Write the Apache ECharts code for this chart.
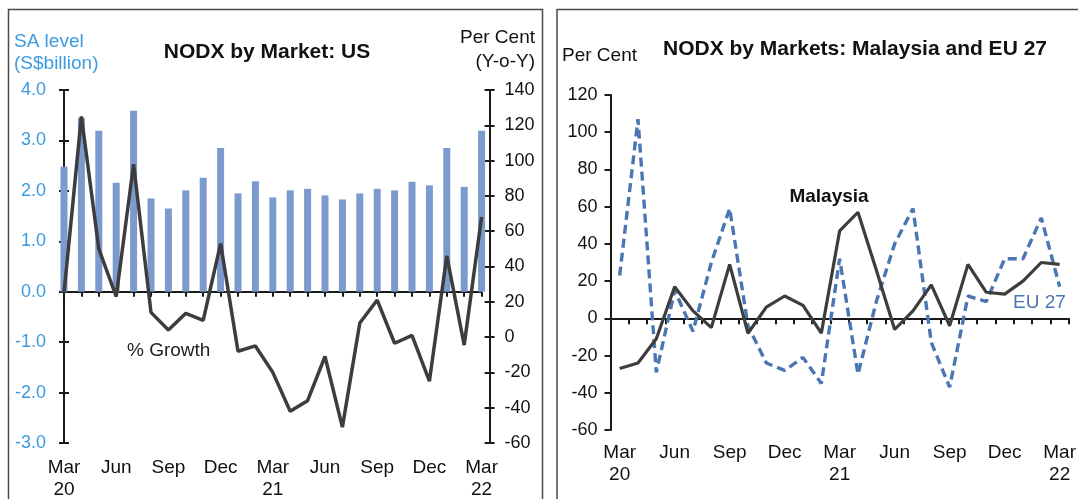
<!DOCTYPE html>
<html>
<head>
<meta charset="utf-8">
<script src="https://cdn.jsdelivr.net/npm/echarts@6/dist/echarts.min.js"></script>
<style>
html,body{margin:0;padding:0;background:#fff;}
#c{width:1078px;height:499px;}
</style>
</head>
<body>
<div id="c"></div>
<script>
// ---- data ----
var categories = ['Mar 20','Apr 20','May 20','Jun 20','Jul 20','Aug 20','Sep 20','Oct 20','Nov 20','Dec 20',
  'Jan 21','Feb 21','Mar 21','Apr 21','May 21','Jun 21','Jul 21','Aug 21','Sep 21','Oct 21','Nov 21','Dec 21',
  'Jan 22','Feb 22','Mar 22'];
var usLevel = [2.48, 3.45, 3.19, 2.16, 3.59, 1.85, 1.65, 2.01, 2.26, 2.85, 1.95, 2.19, 1.87,
  2.01, 2.04, 1.91, 1.83, 1.95, 2.04, 2.01, 2.18, 2.11, 2.85, 2.08, 3.19];
var usGrowth = [25, 125, 50, 23, 98, 14, 4, 13.5, 9.5, 53, -8, -5, -20,
  -42, -36, -11, -51, 8, 21, -3.5, 1, -25, 46, -4.5, 68];
var malaysia = [-27, -24, -11, 17, 4, -5, 29, -8, 6, 12, 7, -8, 47,
  57, 26, -6, 4, 18, -4, 29, 14, 13, 20, 30, 29];
var eu27 = [23, 107, -29, 15, -7, 30, 59, -4, -24, -28, -21, -35, 32,
  -30, 9, 40, 59, -13, -37, 12, 9, 32, 32, 54, 17];
var leftTicks = {min: -3, max: 4, interval: 1};
var rightTicks = {min: -60, max: 140, interval: 20};
var panel2Ticks = {min: -60, max: 120, interval: 20};

// ---- styles ----
var FONT = '"Liberation Sans", Arial, sans-serif';
var AX = '#1a1a1a';
var BLUE_TXT = '#3c9be0';
var BAR = '#7b9bcf';
var LINE = '#3d3d3d';
var EU = '#4a76b3';

function monthFmt(v) {
  var p = v.split(' ');
  return p[0] === 'Mar' ? p[0] + '\n' + p[1] : p[0];
}

var chart = echarts.init(document.getElementById('c'), null, {renderer: 'canvas'});

var g0 = {left: 64, top: 90, width: 417.6, height: 353};
var g1 = {left: 610.5, top: 95, width: 458.3, height: 335};

var option = {
  animation: false,
  textStyle: {fontFamily: FONT},
  grid: [
    {left: g0.left, top: g0.top, width: g0.width, height: g0.height, outerBoundsMode: 'none', containLabel: false},
    {left: g1.left, top: g1.top, width: g1.width, height: g1.height, outerBoundsMode: 'none', containLabel: false}
  ],
  xAxis: [
    {gridIndex: 0, type: 'category', data: categories, boundaryGap: false,
      axisLine: {show: true, onZero: true, onZeroAxisIndex: 0, lineStyle: {color: AX, width: 2}},
      axisTick: {show: true, interval: 0, length: 5, lineStyle: {color: AX, width: 2}},
      axisLabel: {show: false}, splitLine: {show: false}},
    {gridIndex: 0, type: 'category', data: categories, boundaryGap: false,
      axisLine: {show: false, onZero: true, onZeroAxisIndex: 0},
      axisTick: {show: true, inside: true, interval: 0, length: 5, lineStyle: {color: AX, width: 2}},
      axisLabel: {show: false}, splitLine: {show: false}},
    {gridIndex: 0, type: 'category', data: categories, boundaryGap: false, position: 'bottom',
      axisLine: {show: false, onZero: false}, axisTick: {show: false},
      axisLabel: {show: true, interval: 2, formatter: monthFmt, color: '#111', fontSize: 19,
        lineHeight: 22, margin: 14, fontFamily: FONT}},
    {gridIndex: 1, type: 'category', data: categories, boundaryGap: true,
      axisLine: {show: true, onZero: true, lineStyle: {color: AX, width: 2}},
      axisTick: {show: true, interval: 0, length: 6, lineStyle: {color: AX, width: 2}},
      axisLabel: {show: false}, splitLine: {show: false}},
    {gridIndex: 1, type: 'category', data: categories, boundaryGap: true, position: 'bottom',
      axisLine: {show: false, onZero: false}, axisTick: {show: false},
      axisLabel: {show: true, interval: 2, formatter: monthFmt, color: '#111', fontSize: 19,
        lineHeight: 22, margin: 12, fontFamily: FONT}}
  ],
  yAxis: [
    {gridIndex: 0, type: 'value', position: 'left', min: leftTicks.min, max: leftTicks.max, interval: leftTicks.interval,
      axisLine: {show: true, lineStyle: {color: AX, width: 2}},
      axisTick: {show: true, length: 5, lineStyle: {color: AX, width: 2}},
      axisLabel: {color: BLUE_TXT, fontSize: 18, margin: 18, fontFamily: FONT, formatter: function (v) { return v.toFixed(1); }},
      splitLine: {show: false}},
    {gridIndex: 0, type: 'value', position: 'right', offset: 8, min: rightTicks.min, max: rightTicks.max, interval: rightTicks.interval,
      axisLine: {show: true, lineStyle: {color: AX, width: 2}},
      axisTick: {show: true, length: 5, lineStyle: {color: AX, width: 2}},
      axisLabel: {color: '#111', fontSize: 18, margin: 15, fontFamily: FONT},
      splitLine: {show: false}},
    {gridIndex: 0, type: 'value', position: 'left', min: leftTicks.min, max: leftTicks.max, interval: leftTicks.interval,
      axisLine: {show: false}, axisTick: {show: true, inside: true, length: 5, lineStyle: {color: AX, width: 2}},
      axisLabel: {show: false}, splitLine: {show: false}},
    {gridIndex: 0, type: 'value', position: 'right', offset: 8, min: rightTicks.min, max: rightTicks.max, interval: rightTicks.interval,
      axisLine: {show: false}, axisTick: {show: true, inside: true, length: 5, lineStyle: {color: AX, width: 2}},
      axisLabel: {show: false}, splitLine: {show: false}},
    {gridIndex: 1, type: 'value', position: 'left', min: panel2Ticks.min, max: panel2Ticks.max, interval: panel2Ticks.interval,
      axisLine: {show: true, lineStyle: {color: AX, width: 2}},
      axisTick: {show: true, length: 6, lineStyle: {color: AX, width: 2}},
      axisLabel: {color: '#111', fontSize: 18, margin: 13, fontFamily: FONT},
      splitLine: {show: false}}
  ],
  series: [
    {type: 'bar', xAxisIndex: 0, yAxisIndex: 0, data: usLevel, barWidth: 7,
      itemStyle: {color: BAR}, z: 1},
    {type: 'line', xAxisIndex: 0, yAxisIndex: 1, data: usGrowth, symbol: 'none',
      lineStyle: {color: LINE, width: 3.5}, z: 5},
    {type: 'line', xAxisIndex: 3, yAxisIndex: 4, data: eu27, symbol: 'none',
      lineStyle: {color: EU, width: 3.4, type: [9, 5]}, z: 3},
    {type: 'line', xAxisIndex: 3, yAxisIndex: 4, data: malaysia, symbol: 'none',
      lineStyle: {color: LINE, width: 3.2}, z: 4}
  ],
  graphic: [
    {type: 'rect', shape: {x: 8.5, y: 9.5, width: 534, height: 600}, style: {fill: 'none', stroke: '#4a4a4a', lineWidth: 1.5}, silent: true},
    {type: 'rect', shape: {x: 557, y: 9.5, width: 540, height: 600}, style: {fill: 'none', stroke: '#4a4a4a', lineWidth: 1.5}, silent: true},
    {type: 'text', left: 14, top: 32, style: {text: 'SA level', font: '19px ' + FONT, fill: BLUE_TXT}},
    {type: 'text', left: 14, top: 54, style: {text: '(S$billion)', font: '19px ' + FONT, fill: BLUE_TXT}},
    {type: 'text', style: {x: 267, y: 52, text: 'NODX by Market: US', font: 'bold 21px ' + FONT, fill: '#111', align: 'center', verticalAlign: 'middle'}},
    {type: 'text', style: {x: 535, y: 38, text: 'Per Cent', font: '19px ' + FONT, fill: '#111', align: 'right', verticalAlign: 'middle'}},
    {type: 'text', style: {x: 535, y: 62, text: '(Y-o-Y)', font: '19px ' + FONT, fill: '#111', align: 'right', verticalAlign: 'middle'}},
    {type: 'text', style: {x: 127, y: 351, text: '% Growth', font: '19px ' + FONT, fill: '#222', align: 'left', verticalAlign: 'middle'}},
    {type: 'text', style: {x: 562, y: 56, text: 'Per Cent', font: '19px ' + FONT, fill: '#111', align: 'left', verticalAlign: 'middle'}},
    {type: 'text', style: {x: 855, y: 49, text: 'NODX by Markets: Malaysia and EU 27', font: 'bold 21px ' + FONT, fill: '#111', align: 'center', verticalAlign: 'middle'}},
    {type: 'text', style: {x: 829, y: 197, text: 'Malaysia', font: 'bold 19px ' + FONT, fill: '#111', align: 'center', verticalAlign: 'middle'}},
    {type: 'text', style: {x: 1013, y: 303, text: 'EU 27', font: '19px ' + FONT, fill: EU, align: 'left', verticalAlign: 'middle'}}
  ]
};
chart.setOption(option);
</script>
</body>
</html>
